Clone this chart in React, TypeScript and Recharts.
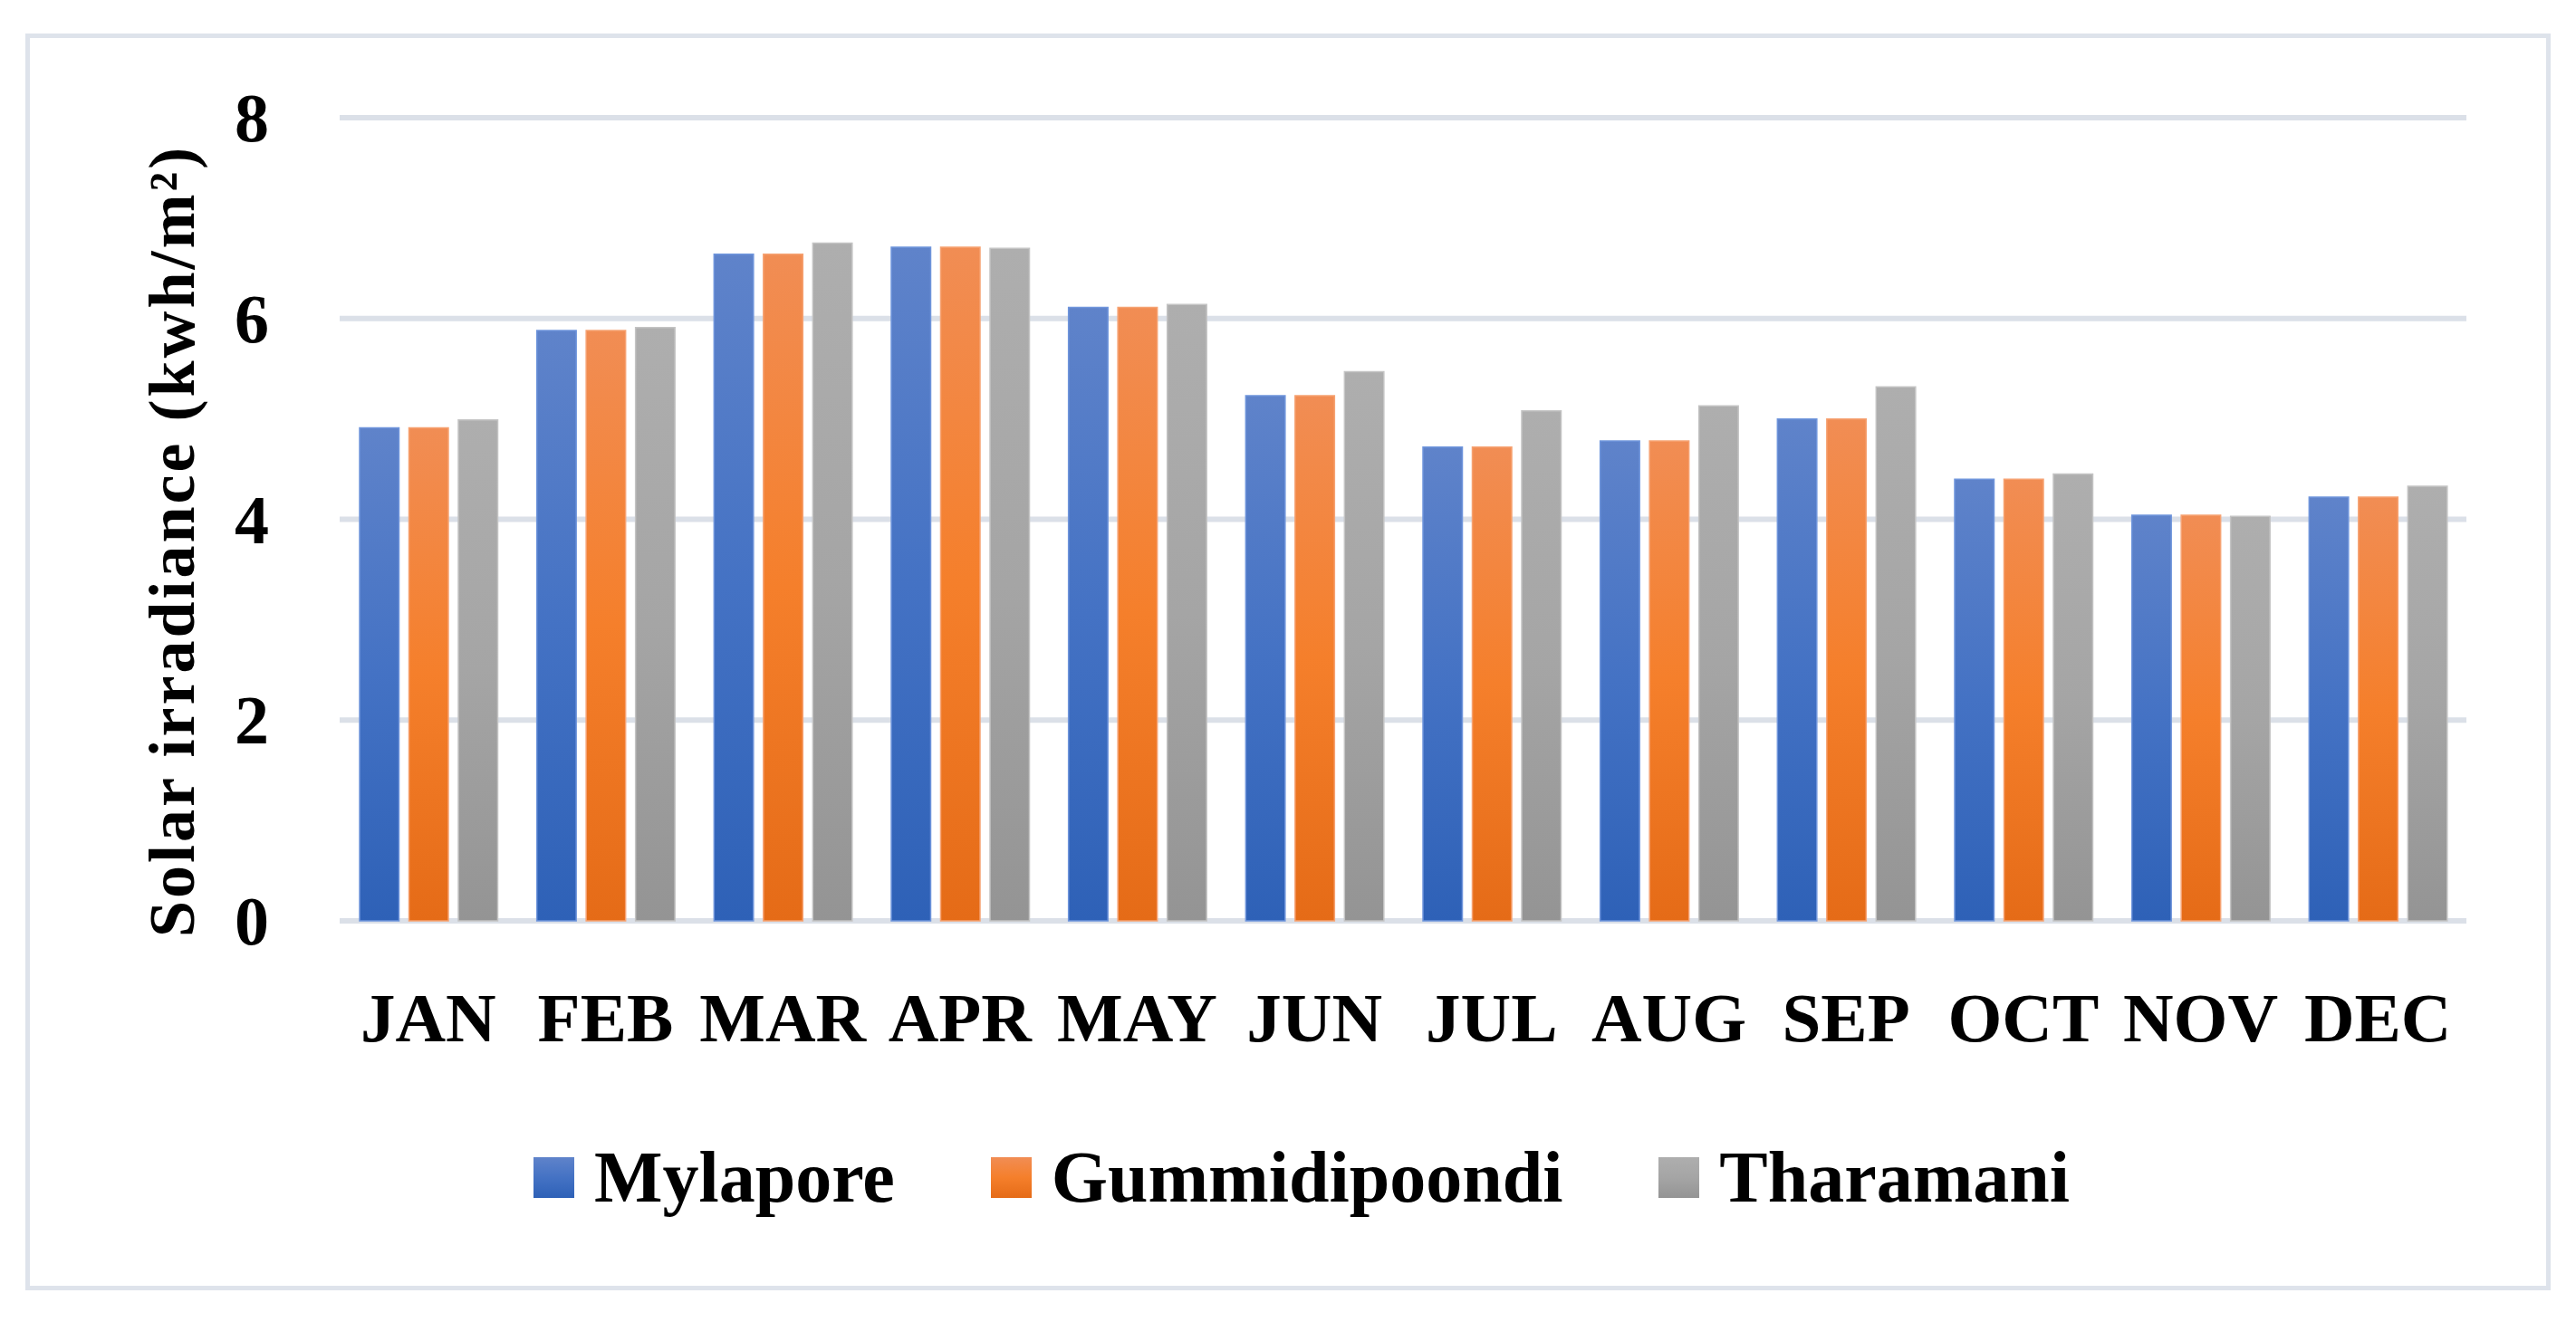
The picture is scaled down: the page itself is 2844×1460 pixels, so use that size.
import React from "react";
import { BarChart, Bar, XAxis, YAxis, CartesianGrid, Legend, Label } from "recharts";

const months = ["JAN", "FEB", "MAR", "APR", "MAY", "JUN", "JUL", "AUG", "SEP", "OCT", "NOV", "DEC"];
const mylapore = [4.91, 5.88, 6.64, 6.71, 6.11, 5.23, 4.72, 4.78, 5.0, 4.4, 4.04, 4.22];
const gummidipoondi = [4.91, 5.88, 6.64, 6.71, 6.11, 5.23, 4.72, 4.78, 5.0, 4.4, 4.04, 4.22];
const tharamani = [4.99, 5.91, 6.75, 6.7, 6.14, 5.47, 5.08, 5.13, 5.32, 4.45, 4.03, 4.33];
const yTicks = [0, 2, 4, 6, 8];

const data = months.map((month, i) => ({
  month,
  mylapore: mylapore[i],
  gummidipoondi: gummidipoondi[i],
  tharamani: tharamani[i],
}));

const FONT = "'Liberation Serif', 'Times New Roman', serif";

const series = [
  { key: "mylapore", name: "Mylapore", id: "gBlue", top: "#5f83ca", mid: "#4472c4", bottom: "#2e61b7", stroke: "#6f95dc" },
  { key: "gummidipoondi", name: "Gummidipoondi", id: "gOrange", top: "#f18d54", mid: "#f57f2b", bottom: "#e56b17", stroke: "#f6a272" },
  { key: "tharamani", name: "Tharamani", id: "gGray", top: "#aeaeae", mid: "#a5a5a5", bottom: "#949494", stroke: "#c4c4c4" },
];

const YTick = (props: any) => {
  const { x, y, payload } = props;
  return (
    <text x={x - 78} y={y} textAnchor="end" dominantBaseline="central" fontFamily={FONT} fontWeight={700} fontSize={76} fill="#000">
      {payload.value}
    </text>
  );
};

const XTick = (props: any) => {
  const { x, y, payload } = props;
  return (
    <text x={x} y={y} dy={133} textAnchor="middle" fontFamily={FONT} fontWeight={700} fontSize={77} fill="#000">
      {payload.value}
    </text>
  );
};

const YTitle = (props: any) => {
  const vb = props.viewBox || { x: 0, y: 130, width: 375, height: 887 };
  const cx = vb.x + 190;
  const cy = vb.y + vb.height / 2 + 24;
  return (
    <text
      x={cx}
      y={cy}
      transform={`rotate(-90, ${cx}, ${cy})`}
      textAnchor="middle"
      dominantBaseline="central"
      fontFamily={FONT}
      fontWeight={700}
      fontSize={72}
      letterSpacing={3}
      fill="#000"
    >
      Solar irradiance (kwh/m²)
    </text>
  );
};

const renderLegend = () => (
  <div
    style={{
      display: "flex",
      justifyContent: "center",
      alignItems: "center",
      height: 100,
      paddingLeft: 30,
      fontFamily: FONT,
      fontWeight: 700,
      fontSize: 80,
      color: "#000",
    }}
  >
    {series.map((s, i) => (
      <div key={s.key} style={{ display: "flex", alignItems: "center", marginLeft: i ? 106 : 0 }}>
        <span
          style={{
            display: "inline-block",
            width: 45,
            height: 45,
            marginRight: 22,
            background: `linear-gradient(${s.top}, ${s.mid}, ${s.bottom})`,
          }}
        />
        <span>{s.name}</span>
      </div>
    ))}
  </div>
);

export default function App() {
  return (
    <div style={{ position: "relative", width: 2844, height: 1460, background: "#fff" }}>
      <style>{"body{margin:0}"}</style>
      <div
        style={{
          position: "absolute",
          left: 28,
          top: 37,
          width: 2788,
          height: 1388,
          border: "5px solid #dee3eb",
          boxSizing: "border-box",
        }}
      />
      <BarChart
        width={2844}
        height={1460}
        data={data}
        margin={{ top: 130, right: 121, bottom: 110, left: 0 }}
        barGap={11}
        barSize={43.5}
      >
        <defs>
          {series.map((s) => (
            <linearGradient key={s.id} id={s.id} x1="0" y1="0" x2="0" y2="1">
              <stop offset="0%" stopColor={s.top} />
              <stop offset="50%" stopColor={s.mid} />
              <stop offset="100%" stopColor={s.bottom} />
            </linearGradient>
          ))}
        </defs>
        <CartesianGrid vertical={false} stroke="#dbe0e8" strokeWidth={6} />
        <XAxis
          dataKey="month"
          axisLine={false}
          tickLine={false}
          tickSize={0}
          tickMargin={0}
          height={233}
          interval={0}
          tick={<XTick />}
        />
        <YAxis
          domain={[0, 8]}
          ticks={yTicks}
          axisLine={false}
          tickLine={false}
          tickSize={0}
          tickMargin={0}
          width={375}
          tick={<YTick />}
        >
          <Label content={<YTitle />} />
        </YAxis>
        <Legend verticalAlign="bottom" content={renderLegend} wrapperStyle={{ left: 0, width: 2844 }} />
        {series.map((s) => (
          <Bar
            key={s.key}
            dataKey={s.key}
            name={s.name}
            fill={`url(#${s.id})`}
            stroke={s.stroke}
            strokeWidth={1.5}
            isAnimationActive={false}
          />
        ))}
      </BarChart>
    </div>
  );
}
